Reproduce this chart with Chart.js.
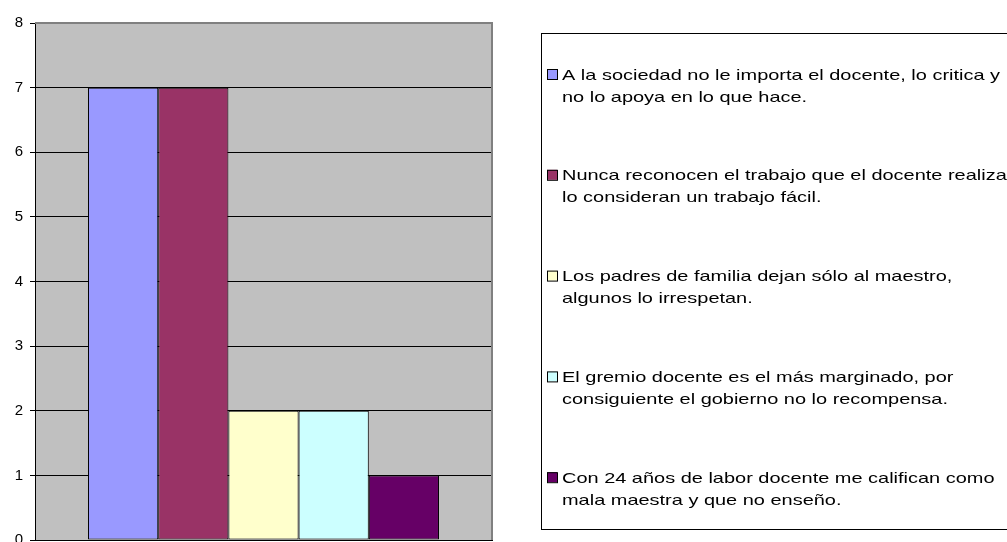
<!DOCTYPE html>
<html lang="es">
<head>
    <meta charset="UTF-8">
    <title>Percepción del docente</title>
    <style>
        body { margin: 0; background: #fff; overflow: hidden; }
        canvas { display: block; }
    </style>
</head>
<body>
<canvas id="barChart" width="1007" height="542"></canvas>
<script src="https://cdn.jsdelivr.net/npm/chart.js"></script>
<script>
    // Datos
    const categories = [''];
    const seriesLabels = [
        ['A la sociedad no le importa el docente, lo critica y', 'no lo apoya en lo que hace.'],
        ['Nunca reconocen el trabajo que el docente realiza,', 'lo consideran un trabajo fácil.'],
        ['Los padres de familia dejan sólo al maestro,', 'algunos lo irrespetan.'],
        ['El gremio docente es el más marginado, por', 'consiguiente el gobierno no lo recompensa.'],
        ['Con 24 años de labor docente me califican como', 'mala maestra y que no enseño.']
    ];
    const seriesValues = [7, 7, 2, 2, 1];
    const seriesColors = ['#9999FF', '#993366', '#FFFFCC', '#CCFFFF', '#660066'];
    const yMin = 0, yMax = 8, yStep = 1;

    const fontFamily = 'Arial, "Liberation Sans", sans-serif';
    const stretchX = 1.33; // el original está estirado en horizontal

    // Fondo gris y borde del área de trazado
    const plotArea = {
        id: 'plotArea',
        beforeDraw(chart) {
            const {ctx, chartArea: a} = chart;
            ctx.save();
            ctx.fillStyle = '#C0C0C0';
            ctx.fillRect(a.left, a.top, a.right - a.left, a.bottom - a.top);
            ctx.restore();
        },
        afterDatasetsDraw(chart) {
            const {ctx, chartArea: a} = chart;
            ctx.save();
            ctx.strokeStyle = '#808080';
            ctx.lineWidth = 2;
            ctx.beginPath();
            ctx.moveTo(a.left, a.top);
            ctx.lineTo(a.right, a.top);
            ctx.lineTo(a.right, a.bottom);
            ctx.stroke();
            ctx.restore();
        }
    };

    // Leyenda a la derecha con texto en dos líneas
    const sideLegend = {
        id: 'sideLegend',
        afterDraw(chart) {
            const ctx = chart.ctx;
            ctx.save();
            ctx.strokeStyle = '#000';
            ctx.lineWidth = 1;
            ctx.strokeRect(541.5, 33.5, 500, 496);
            ctx.font = '15px ' + fontFamily;
            ctx.textBaseline = 'alphabetic';
            chart.data.datasets.forEach((ds, i) => {
                const y = 74 + i * 100.8;
                ctx.fillStyle = ds.backgroundColor;
                ctx.fillRect(547, y - 5, 10, 10);
                ctx.strokeStyle = '#000';
                ctx.strokeRect(547.5, y - 4.5, 10, 10);
                ctx.fillStyle = '#000';
                ds.label.forEach((line, j) => {
                    ctx.save();
                    ctx.translate(562, y + 5.5 + j * 22);
                    ctx.scale(stretchX, 1);
                    ctx.fillText(line, 0, 0);
                    ctx.restore();
                });
            });
            ctx.restore();
        }
    };

    const ctx = document.getElementById('barChart').getContext('2d');
    const barChart = new Chart(ctx, {
        type: 'bar',
        data: {
            labels: categories,
            datasets: seriesValues.map((v, i) => ({
                label: seriesLabels[i],
                data: [v],
                backgroundColor: seriesColors[i],
                borderColor: '#000',
                borderWidth: 1,
                borderSkipped: false,
                categoryPercentage: 0.768,
                barPercentage: 1
            }))
        },
        options: {
            responsive: false,
            animation: false,
            devicePixelRatio: 1,
            layout: { padding: { top: 23, right: 515, bottom: 2, left: 0 } },
            plugins: {
                legend: { display: false },
                tooltip: { enabled: false }
            },
            scales: {
                x: {
                    grid: { display: false },
                    ticks: { display: false },
                    border: { color: '#000', width: 1 },
                    afterFit(scale) {
                        scale.height = 0;
                        scale.paddingLeft = 0; scale.paddingRight = 0;
                        scale.paddingTop = 0; scale.paddingBottom = 0;
                    }
                },
                y: {
                    min: yMin,
                    max: yMax,
                    ticks: {
                        stepSize: yStep,
                        color: '#000',
                        padding: 7,
                        font: { family: fontFamily, size: 15 }
                    },
                    grid: {
                        color: c => (c.tick.value === yMax ? '#808080' : (c.tick.value === yMin ? 'rgba(0,0,0,0)' : '#000')),
                        tickColor: '#000',
                        tickLength: 5,
                        lineWidth: 1
                    },
                    border: { color: '#000', width: 1 },
                    afterFit(scale) {
                        scale.width = 35;
                        scale.paddingTop = 0; scale.paddingBottom = 0;
                    }
                }
            }
        },
        plugins: [plotArea, sideLegend]
    });
</script>
</body>
</html>
